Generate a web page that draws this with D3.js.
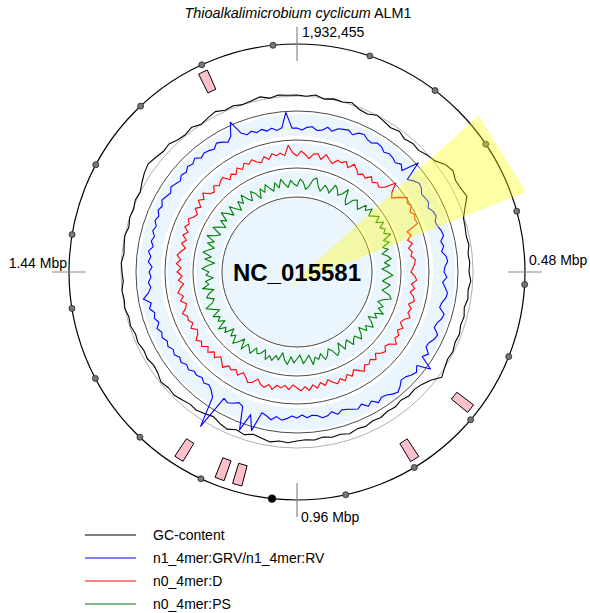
<!DOCTYPE html>
<html>
<head>
<meta charset="utf-8">
<script src="https://cdn.jsdelivr.net/npm/d3@7"></script>
<style>
  body { margin: 0; background: #fff; }
  svg { display: block; }
  text { font-family: "Liberation Sans", Arial, sans-serif; }
</style>
</head>
<body>
<script>
// genome info
var genomeLength = 1932455;
var accession = "NC_015581";
var organismName = "Thioalkalimicrobium cyclicum";
var strainName = "ALM1";

// quarter ticks and their labels
var tickPositions = [0, 483114, 966228, 1449341];
var tickLabels = ["1,932,455", "0.48 Mbp", "0.96 Mbp", "1.44 Mbp"];

// 100 kb marks (1 Mbp drawn in black)
var markPositions = [100000, 200000, 300000, 400000, 500000, 600000, 700000, 800000, 900000, 1000000,
  1100000, 1200000, 1300000, 1400000, 1500000, 1600000, 1700000, 1800000, 1900000];

// features (start, end)
var featureStarts = [681500, 786700, 1043800, 1069600, 1132900, 1790500];
var featureEnds   = [694900, 800100, 1057200, 1083000, 1146300, 1803900];

// highlighted region
var highlightRegion = [258000, 367000];

// GC content (%), 120 windows
var gcMean = 50.4;
var gcContent = [
  50.8, 50.4, 51.2, 50.0, 50.8, 50.4, 51.2, 49.6, 49.2, 50.4,
  49.6, 48.8, 49.6, 48.4, 49.2, 48.8, 50.0, 50.8, 53.2, 54.4,
  53.2, 53.6, 54.4, 52.0, 50.0, 49.6, 49.2, 49.6, 48.8, 49.2,
  48.8, 49.6, 48.8, 49.2, 48.4, 49.2, 48.8, 49.6, 49.2, 50.0,
  49.6, 50.4, 51.6, 48.8, 47.2, 46.4, 46.8, 46.0, 46.8, 46.4,
  47.2, 46.8, 47.6, 47.2, 48.0, 47.2, 47.6, 46.8, 47.6, 47.2,
  47.6, 48.4, 48.0, 48.8, 48.0, 47.2, 48.4, 47.6, 48.8, 48.0,
  46.8, 47.6, 48.4, 48.0, 48.8, 49.6, 49.2, 50.0, 48.8, 48.4,
  49.2, 48.8, 49.6, 49.2, 50.0, 49.6, 50.4, 50.0, 50.4, 49.6,
  50.0, 50.4, 49.6, 50.0, 50.4, 49.6, 50.4, 50.0, 50.8, 50.4,
  51.6, 52.8, 53.6, 52.8, 52.0, 52.4, 51.2, 50.8, 51.6, 50.4,
  51.2, 52.0, 50.8, 51.2, 50.4, 50.8, 51.6, 50.4, 51.2, 50.8
];

// n1_4mer:GRV/n1_4mer:RV, 180 windows
var n1GRV = [
  -0.3, -0.5, -0.2, -0.1, -0.4, -0.3, 0.1, -0.2, 0.2, 0.3,
  0.4, 0.1, 0.5, 0.6, 0.3, 0.2, 0.5, 0.4, 0.1, 0.3,
  0.2, 0.0, 0.3, -0.1, 1.6, -0.3, 0.1, 0.4, 0.3, 0.0,
  0.1, 0.2, -0.1, 0.2, 0.3, 0.0, 0.1, 0.3, 0.4, 0.0,
  0.2, -0.1, 0.3, 0.4, 0.1, 0.0, 0.3, -0.1, 0.2, 0.5,
  0.4, 0.1, 0.0, 0.6, 0.5, 0.2, 0.1, 0.7, 0.6, 0.3,
  0.2, 0.8, 0.4, 1.8, 0.5, 0.9, 0.7, 0.4, 0.3, 0.7,
  1.0, 0.8, 0.5, 0.4, 0.7, 0.2, 0.5, 0.0, 0.3, 0.1,
  -0.1, -0.2, 0.1, -0.3, 0.0, 0.1, -0.2, -0.3, -0.1, -0.4,
  -0.1, -0.3, 0.0, 0.2, -0.1, 0.3, 0.0, -0.2, 1.8, 0.3,
  2.1, -0.2, -0.4, -0.1, 0.1, -0.1, 3.5, 0.4, -0.1, -0.4,
  -0.2, -0.5, -0.3, -0.4, -0.1, -0.3, 0.0, -0.2, 0.1, -0.1,
  0.2, 0.0, 0.3, 0.1, 0.4, 0.0, 0.3, 0.1, 0.5, 0.2,
  0.9, 0.3, 0.0, 0.2, -0.1, 0.1, -0.2, 0.2, 0.0, 0.3,
  -0.1, 0.2, 0.0, 0.3, 0.1, 0.4, 0.2, 0.5, 0.3, 0.6,
  0.4, 0.2, 0.5, 0.3, 0.1, 0.4, 0.2, 0.5, 0.3, 0.6,
  0.2, 0.4, 0.3, 0.1, 0.5, 0.3, 0.0, 0.4, 1.7, 0.3,
  -0.1, 0.1, -0.2, 0.0, -0.3, -0.1, -0.4, -0.2, 1.3, -0.3
];

// n0_4mer:D, 180 windows
var n0D = [
  -0.2, 0.3, 0.0, -0.4, 0.1, 0.2, -0.3, 0.3, -0.1, -0.4,
  0.1, 0.0, 0.3, -0.2, 0.4, 0.1, -0.3, 0.0, -0.2, 0.3,
  -0.1, 0.2, 0.0, 0.4, 1.5, 0.6, 0.2, 0.9, 1.5, 1.2,
  1.4, 1.0, 1.3, 1.1, 1.2, -0.1, 0.2, -0.3, 0.1, -0.4,
  -0.1, -0.3, 0.1, 0.0, -0.2, -0.4, 0.0, 0.2, -0.3, 0.1,
  -0.3, 0.1, 0.3, -0.2, 0.2, 0.0, 0.4, -0.1, -0.3, 0.2,
  -0.2, 0.2, 0.0, 0.5, -0.1, -0.3, 0.1, -0.1, -0.5, 0.0,
  -0.4, -0.1, -0.3, 0.2, -0.2, -0.5, 0.0, -0.4, 0.1, -0.3,
  0.1, -0.2, -0.6, -0.1, -0.5, 0.0, -0.4, 0.1, -0.3, 0.1,
  -0.2, -0.5, 0.0, -0.4, -0.1, -0.3, 0.2, -0.2, 0.2, 0.0,
  -0.4, 0.1, 0.3, -0.1, -0.4, 0.1, -0.3, 0.0, -0.2, 0.3,
  -0.1, -0.4, 0.1, -0.3, 0.2, -0.2, 0.3, 0.0, 0.4, -0.1,
  -0.3, 0.2, -0.2, 0.1, 0.0, 0.4, -0.1, -0.3, 0.2, -0.2,
  0.3, 0.0, -0.4, 0.1, -0.3, 0.2, -0.2, 0.3, -0.1, 0.3,
  0.0, -0.4, 0.1, -0.3, 0.2, -0.2, 0.3, 0.0, 0.3, -0.1,
  -0.3, 0.2, -0.2, 0.4, 0.0, 0.5, -0.1, -0.3, 0.2, -0.2,
  0.1, 0.2, -0.4, 0.0, -0.3, 0.2, -0.2, 0.3, 0.0, 0.3,
  -0.1, -0.3, 0.2, -0.2, 0.3, 0.0, 0.2, -0.1, 0.9, 0.1
];

// n0_4mer:PS, 180 windows
var n0PS = [
  -0.3, 0.4, 0.1, -0.6, -0.2, 0.5, 0.7, -0.1, -0.5, 0.2,
  0.0, -0.4, 0.6, 0.3, -0.2, 0.1, 0.8, -0.3, -0.6, 0.2,
  0.5, 0.1, -0.2, 0.7, 0.3, 0.9, 0.2, 0.6, 1.0, 0.4,
  1.1, 0.5, 0.9, 0.6, 1.2, 0.3, 0.8, 0.0, 0.5, -0.2,
  0.3, 0.6, -0.1, 0.4, -0.4, 0.2, 0.7, 0.1, -0.3, 0.5,
  0.2, -0.2, 0.6, 0.9, 0.1, -0.3, 0.4, 0.0, 0.7, -0.1,
  0.3, -0.5, 0.1, 0.5, -0.2, 0.2, -0.6, 0.0, 0.4, -0.3,
  -0.1, 0.3, -0.5, -0.2, 0.2, -0.7, 0.1, 0.4, -0.3, -0.6,
  0.0, 0.3, -0.4, 0.1, -0.2, 0.5, -0.5, -0.1, 0.3, -0.6,
  -0.2, 0.2, -0.4, 0.4, 0.0, -0.7, 0.1, -0.3, 0.3, -0.1,
  0.4, -0.5, 0.0, 0.2, -0.3, 0.5, 0.1, -0.2, 0.6, -0.4,
  0.2, 0.7, -0.1, 0.3, -0.4, 0.5, 0.1, 0.8, -0.2, 0.4,
  0.0, 0.6, -0.3, 0.3, 0.9, 0.1, -0.2, 0.5, 0.2, -0.4,
  0.7, 0.0, 0.3, -0.5, 0.2, -0.1, 0.6, 0.1, -0.6, 0.4,
  -0.2, 0.7, 0.2, -0.3, 0.5, -0.1, 0.8, 0.0, -0.4, 0.6,
  0.1, -0.5, 0.3, -0.2, 0.7, 0.2, -0.4, 0.5, -0.1, -0.6,
  0.3, -0.2, 0.6, -0.1, -0.5, 0.4, 0.0, -0.7, 0.2, -0.3,
  0.4, -0.1, -0.5, 0.3, -0.3, 0.5, 0.0, -0.4, 0.3, -0.1
];

var legendLabels = ["GC-content", "n1_4mer:GRV/n1_4mer:RV", "n0_4mer:D", "n0_4mer:PS"];
var legendColors = ["#000000", "#0000ff", "#ff0000", "#008000"];

var w = 590, h = 613;
var cx = 297, cy = 272;
var lightBlue = "#ebf5fd";

var svg = d3.select("body").append("svg")
  .attr("width", w)
  .attr("height", h);

var g = svg.append("g").attr("transform", "translate(" + cx + "," + cy + ")");

var angle = d3.scaleLinear().domain([0, genomeLength]).range([0, 2 * Math.PI]);

// radial scales for each track
var gcR = d3.scaleLinear().domain([40, 60]).range([150, 200]);
var blueR = d3.scaleLinear().domain([-1.4, 1.4]).range([133, 161]);
var redR = d3.scaleLinear().domain([-1.4, 1.4]).range([104, 132]);
var greenR = d3.scaleLinear().domain([-1.4, 1.5]).range([75, 104]);

var band = d3.arc().startAngle(0).endAngle(2 * Math.PI);

// track backgrounds
[[136, 158], [107, 129], [78, 101]].forEach(function(b) {
  g.append("path")
    .attr("d", band({ innerRadius: b[0], outerRadius: b[1] }))
    .attr("fill", lightBlue);
});
g.append("circle").attr("r", 75).attr("fill", lightBlue);

// track borders
[161, 132, 104, 75].forEach(function(r) {
  g.append("circle").attr("r", r)
    .attr("fill", "none").attr("stroke", "#4a4a4a").attr("stroke-width", 1);
});
g.append("circle").attr("r", gcR(gcMean))
  .attr("fill", "none").attr("stroke", "#b0b0b0").attr("stroke-width", 1);

function drawSeries(values, rScale, color) {
  var step = genomeLength / values.length;
  var line = d3.lineRadial()
    .angle(function(d, i) { return angle(i * step); })
    .radius(function(d) { return rScale(d); })
    .curve(d3.curveLinearClosed);
  g.append("path")
    .attr("d", line(values))
    .attr("fill", "none")
    .attr("stroke", color)
    .attr("stroke-width", 1.1)
    .attr("stroke-linejoin", "round");
}

drawSeries(gcContent, gcR, legendColors[0]);
drawSeries(n1GRV, blueR, legendColors[1]);
drawSeries(n0D, redR, legendColors[2]);
drawSeries(n0PS, greenR, legendColors[3]);

// features
var featArc = d3.arc().innerRadius(200).outerRadius(221);
featureStarts.forEach(function(s, i) {
  g.append("path")
    .attr("d", featArc({ startAngle: angle(s), endAngle: angle(featureEnds[i]) }))
    .attr("fill", "#ffc0cb")
    .attr("stroke", "#000")
    .attr("stroke-width", 1);
});

// outer circle
var outerR = 228;
g.append("circle").attr("r", outerR)
  .attr("fill", "none").attr("stroke", "#000").attr("stroke-width", 1.2);

// ticks
tickPositions.forEach(function(p) {
  var a = angle(p);
  g.append("line")
    .attr("x1", 211 * Math.sin(a)).attr("y1", -211 * Math.cos(a))
    .attr("x2", 245 * Math.sin(a)).attr("y2", -245 * Math.cos(a))
    .attr("stroke", "#888").attr("stroke-width", 1.2);
});

// 100 kb marks
g.selectAll("circle.mark")
  .data(markPositions)
  .enter()
  .append("circle")
  .attr("class", "mark")
  .attr("cx", function(d) { return outerR * Math.sin(angle(d)); })
  .attr("cy", function(d) { return -outerR * Math.cos(angle(d)); })
  .attr("r", function(d) { return d % 1000000 == 0 ? 3.8 : 3; })
  .attr("fill", function(d) { return d % 1000000 == 0 ? "#000" : "#777"; })
  .attr("stroke", "#222")
  .attr("stroke-width", 0.8);

// highlight wedge (drawn from a point slightly below centre)
var wo = [-8, 14], wr = 255;
var a0 = angle(highlightRegion[0]), a1 = angle(highlightRegion[1]);
var wedge = d3.path();
wedge.moveTo(wo[0], wo[1]);
wedge.lineTo(wo[0] + wr * Math.sin(a0), wo[1] - wr * Math.cos(a0));
wedge.lineTo(wo[0] + wr * Math.sin(a1), wo[1] - wr * Math.cos(a1));
wedge.closePath();
g.append("path")
  .attr("d", wedge.toString())
  .attr("fill", "#ffff00")
  .attr("fill-opacity", 0.35);

// tick labels
var labelPlace = [
  { x: 5, y: -235, anchor: "start" },
  { x: 232, y: -7, anchor: "start" },
  { x: 4, y: 250, anchor: "start" },
  { x: -230, y: -4, anchor: "end" }
];
tickLabels.forEach(function(t, i) {
  g.append("text")
    .attr("x", labelPlace[i].x).attr("y", labelPlace[i].y)
    .attr("text-anchor", labelPlace[i].anchor)
    .attr("font-size", "14px")
    .attr("fill", "#000")
    .text(t);
});

// centre label
g.append("text")
  .attr("x", 0).attr("y", 9)
  .attr("text-anchor", "middle")
  .attr("font-size", "24px")
  .attr("font-weight", "bold")
  .text(accession);

// title
var title = svg.append("text")
  .attr("x", 298).attr("y", 18)
  .attr("text-anchor", "middle")
  .attr("font-size", "14.4px");
title.append("tspan").attr("font-style", "italic").text(organismName);
title.append("tspan").text(" " + strainName);

// legend
var legend = svg.append("g").attr("transform", "translate(85,535)");
legendLabels.forEach(function(l, i) {
  legend.append("line")
    .attr("x1", 0).attr("x2", 51)
    .attr("y1", i * 23).attr("y2", i * 23)
    .attr("stroke", legendColors[i]).attr("stroke-width", 1.2);
  legend.append("text")
    .attr("x", 68).attr("y", i * 23 + 5)
    .attr("font-size", "14px")
    .text(l);
});
</script>
</body>
</html>
